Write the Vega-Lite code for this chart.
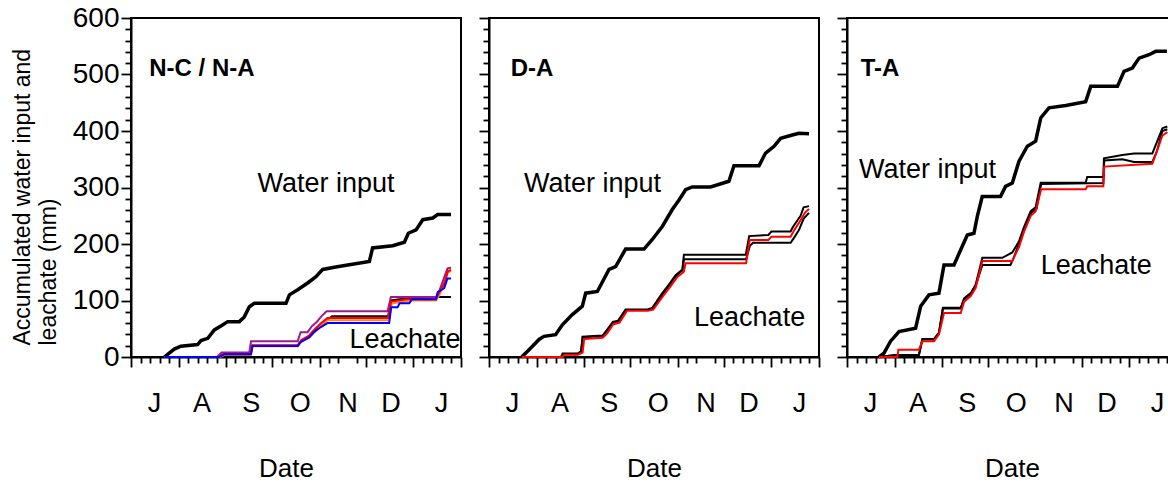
{
  "$schema": "https://vega.github.io/schema/vega-lite/v6.json",
  "padding": {"left": 10, "top": 3, "right": 0, "bottom": 0},
  "background": "white",
  "datasets": {
    "lines": [
      {"panel":"N-C / N-A","series":"Water input","day":21.7,"value":0},
      {"panel":"N-C / N-A","series":"Water input","day":24.9,"value":7},
      {"panel":"N-C / N-A","series":"Water input","day":28.2,"value":14},
      {"panel":"N-C / N-A","series":"Water input","day":32.5,"value":19},
      {"panel":"N-C / N-A","series":"Water input","day":43.4,"value":22},
      {"panel":"N-C / N-A","series":"Water input","day":45.6,"value":29},
      {"panel":"N-C / N-A","series":"Water input","day":50,"value":33},
      {"panel":"N-C / N-A","series":"Water input","day":54.3,"value":48},
      {"panel":"N-C / N-A","series":"Water input","day":58.6,"value":55},
      {"panel":"N-C / N-A","series":"Water input","day":63,"value":62.6},
      {"panel":"N-C / N-A","series":"Water input","day":70.6,"value":62.6},
      {"panel":"N-C / N-A","series":"Water input","day":73.8,"value":71},
      {"panel":"N-C / N-A","series":"Water input","day":77.1,"value":89},
      {"panel":"N-C / N-A","series":"Water input","day":80.4,"value":95},
      {"panel":"N-C / N-A","series":"Water input","day":101,"value":95},
      {"panel":"N-C / N-A","series":"Water input","day":103.2,"value":110},
      {"panel":"N-C / N-A","series":"Water input","day":108.6,"value":119},
      {"panel":"N-C / N-A","series":"Water input","day":115.1,"value":131},
      {"panel":"N-C / N-A","series":"Water input","day":120.5,"value":142},
      {"panel":"N-C / N-A","series":"Water input","day":124.9,"value":155},
      {"panel":"N-C / N-A","series":"Water input","day":132.5,"value":159},
      {"panel":"N-C / N-A","series":"Water input","day":141.2,"value":163},
      {"panel":"N-C / N-A","series":"Water input","day":155.3,"value":169},
      {"panel":"N-C / N-A","series":"Water input","day":157.4,"value":193},
      {"panel":"N-C / N-A","series":"Water input","day":170.5,"value":197},
      {"panel":"N-C / N-A","series":"Water input","day":178.1,"value":203},
      {"panel":"N-C / N-A","series":"Water input","day":180.7,"value":219},
      {"panel":"N-C / N-A","series":"Water input","day":185.7,"value":225},
      {"panel":"N-C / N-A","series":"Water input","day":190.1,"value":243},
      {"panel":"N-C / N-A","series":"Water input","day":196.6,"value":246},
      {"panel":"N-C / N-A","series":"Water input","day":199.8,"value":252},
      {"panel":"N-C / N-A","series":"Water input","day":208.5,"value":252},

      {"panel":"N-C / N-A","series":"Leachate (black)","day":21.7,"value":0},
      {"panel":"N-C / N-A","series":"Leachate (black)","day":57,"value":0},
      {"panel":"N-C / N-A","series":"Leachate (black)","day":60,"value":5},
      {"panel":"N-C / N-A","series":"Leachate (black)","day":78,"value":5},
      {"panel":"N-C / N-A","series":"Leachate (black)","day":79,"value":20},
      {"panel":"N-C / N-A","series":"Leachate (black)","day":108.6,"value":20},
      {"panel":"N-C / N-A","series":"Leachate (black)","day":111,"value":28},
      {"panel":"N-C / N-A","series":"Leachate (black)","day":116,"value":36},
      {"panel":"N-C / N-A","series":"Leachate (black)","day":120,"value":47},
      {"panel":"N-C / N-A","series":"Leachate (black)","day":124,"value":57},
      {"panel":"N-C / N-A","series":"Leachate (black)","day":128,"value":66},
      {"panel":"N-C / N-A","series":"Leachate (black)","day":131,"value":72},
      {"panel":"N-C / N-A","series":"Leachate (black)","day":167.5,"value":72},
      {"panel":"N-C / N-A","series":"Leachate (black)","day":169.5,"value":100},
      {"panel":"N-C / N-A","series":"Leachate (black)","day":175,"value":102},
      {"panel":"N-C / N-A","series":"Leachate (black)","day":199.5,"value":106},
      {"panel":"N-C / N-A","series":"Leachate (black)","day":208.5,"value":106},

      {"panel":"N-C / N-A","series":"Leachate (purple)","day":21.7,"value":0},
      {"panel":"N-C / N-A","series":"Leachate (purple)","day":56,"value":0},
      {"panel":"N-C / N-A","series":"Leachate (purple)","day":59,"value":8},
      {"panel":"N-C / N-A","series":"Leachate (purple)","day":77.1,"value":8},
      {"panel":"N-C / N-A","series":"Leachate (purple)","day":78.2,"value":28},
      {"panel":"N-C / N-A","series":"Leachate (purple)","day":108.6,"value":28},
      {"panel":"N-C / N-A","series":"Leachate (purple)","day":110.5,"value":44},
      {"panel":"N-C / N-A","series":"Leachate (purple)","day":115,"value":44},
      {"panel":"N-C / N-A","series":"Leachate (purple)","day":118,"value":55},
      {"panel":"N-C / N-A","series":"Leachate (purple)","day":121,"value":62},
      {"panel":"N-C / N-A","series":"Leachate (purple)","day":124,"value":72},
      {"panel":"N-C / N-A","series":"Leachate (purple)","day":127.4,"value":81},
      {"panel":"N-C / N-A","series":"Leachate (purple)","day":167.2,"value":81},
      {"panel":"N-C / N-A","series":"Leachate (purple)","day":169.3,"value":106},
      {"panel":"N-C / N-A","series":"Leachate (purple)","day":198.7,"value":106},
      {"panel":"N-C / N-A","series":"Leachate (purple)","day":201,"value":118},
      {"panel":"N-C / N-A","series":"Leachate (purple)","day":203,"value":133},
      {"panel":"N-C / N-A","series":"Leachate (purple)","day":206.2,"value":157},
      {"panel":"N-C / N-A","series":"Leachate (purple)","day":208.5,"value":158},

      {"panel":"N-C / N-A","series":"Leachate (orange)","day":21.7,"value":0},
      {"panel":"N-C / N-A","series":"Leachate (orange)","day":58,"value":0},
      {"panel":"N-C / N-A","series":"Leachate (orange)","day":61,"value":4},
      {"panel":"N-C / N-A","series":"Leachate (orange)","day":78,"value":4},
      {"panel":"N-C / N-A","series":"Leachate (orange)","day":79,"value":19},
      {"panel":"N-C / N-A","series":"Leachate (orange)","day":108.6,"value":19},
      {"panel":"N-C / N-A","series":"Leachate (orange)","day":111,"value":27},
      {"panel":"N-C / N-A","series":"Leachate (orange)","day":116,"value":34},
      {"panel":"N-C / N-A","series":"Leachate (orange)","day":120,"value":45},
      {"panel":"N-C / N-A","series":"Leachate (orange)","day":124,"value":56},
      {"panel":"N-C / N-A","series":"Leachate (orange)","day":128,"value":65},
      {"panel":"N-C / N-A","series":"Leachate (orange)","day":168,"value":65},
      {"panel":"N-C / N-A","series":"Leachate (orange)","day":170,"value":95},
      {"panel":"N-C / N-A","series":"Leachate (orange)","day":176,"value":97},
      {"panel":"N-C / N-A","series":"Leachate (orange)","day":182,"value":100},
      {"panel":"N-C / N-A","series":"Leachate (orange)","day":198.7,"value":100},
      {"panel":"N-C / N-A","series":"Leachate (orange)","day":201,"value":110},
      {"panel":"N-C / N-A","series":"Leachate (orange)","day":204,"value":128},
      {"panel":"N-C / N-A","series":"Leachate (orange)","day":206.5,"value":150},
      {"panel":"N-C / N-A","series":"Leachate (orange)","day":208.5,"value":152},

      {"panel":"N-C / N-A","series":"Leachate (red)","day":21.7,"value":0},
      {"panel":"N-C / N-A","series":"Leachate (red)","day":57,"value":0},
      {"panel":"N-C / N-A","series":"Leachate (red)","day":60,"value":5},
      {"panel":"N-C / N-A","series":"Leachate (red)","day":78,"value":5},
      {"panel":"N-C / N-A","series":"Leachate (red)","day":79,"value":21},
      {"panel":"N-C / N-A","series":"Leachate (red)","day":108.6,"value":21},
      {"panel":"N-C / N-A","series":"Leachate (red)","day":111,"value":30},
      {"panel":"N-C / N-A","series":"Leachate (red)","day":116,"value":38},
      {"panel":"N-C / N-A","series":"Leachate (red)","day":120,"value":50},
      {"panel":"N-C / N-A","series":"Leachate (red)","day":124,"value":60},
      {"panel":"N-C / N-A","series":"Leachate (red)","day":128,"value":69},
      {"panel":"N-C / N-A","series":"Leachate (red)","day":167.5,"value":69},
      {"panel":"N-C / N-A","series":"Leachate (red)","day":169.5,"value":98},
      {"panel":"N-C / N-A","series":"Leachate (red)","day":175,"value":100},
      {"panel":"N-C / N-A","series":"Leachate (red)","day":180,"value":102},
      {"panel":"N-C / N-A","series":"Leachate (red)","day":198.7,"value":102},
      {"panel":"N-C / N-A","series":"Leachate (red)","day":201,"value":115},
      {"panel":"N-C / N-A","series":"Leachate (red)","day":204,"value":130},
      {"panel":"N-C / N-A","series":"Leachate (red)","day":206.5,"value":152},
      {"panel":"N-C / N-A","series":"Leachate (red)","day":208.5,"value":154},

      {"panel":"N-C / N-A","series":"Leachate (blue)","day":21.7,"value":0},
      {"panel":"N-C / N-A","series":"Leachate (blue)","day":57.5,"value":0},
      {"panel":"N-C / N-A","series":"Leachate (blue)","day":60.8,"value":5},
      {"panel":"N-C / N-A","series":"Leachate (blue)","day":78.2,"value":5},
      {"panel":"N-C / N-A","series":"Leachate (blue)","day":79.2,"value":19.5},
      {"panel":"N-C / N-A","series":"Leachate (blue)","day":108.6,"value":19.5},
      {"panel":"N-C / N-A","series":"Leachate (blue)","day":110.7,"value":27},
      {"panel":"N-C / N-A","series":"Leachate (blue)","day":116.1,"value":34.5},
      {"panel":"N-C / N-A","series":"Leachate (blue)","day":119.4,"value":44.5},
      {"panel":"N-C / N-A","series":"Leachate (blue)","day":123.7,"value":53},
      {"panel":"N-C / N-A","series":"Leachate (blue)","day":128,"value":60},
      {"panel":"N-C / N-A","series":"Leachate (blue)","day":168.2,"value":60},
      {"panel":"N-C / N-A","series":"Leachate (blue)","day":169.5,"value":88},
      {"panel":"N-C / N-A","series":"Leachate (blue)","day":173.7,"value":88},
      {"panel":"N-C / N-A","series":"Leachate (blue)","day":175,"value":95},
      {"panel":"N-C / N-A","series":"Leachate (blue)","day":181.3,"value":95},
      {"panel":"N-C / N-A","series":"Leachate (blue)","day":183,"value":102},
      {"panel":"N-C / N-A","series":"Leachate (blue)","day":198.7,"value":102},
      {"panel":"N-C / N-A","series":"Leachate (blue)","day":199.8,"value":115},
      {"panel":"N-C / N-A","series":"Leachate (blue)","day":204.1,"value":122},
      {"panel":"N-C / N-A","series":"Leachate (blue)","day":206.2,"value":139},
      {"panel":"N-C / N-A","series":"Leachate (blue)","day":208.5,"value":139},

      {"panel":"D-A","series":"Water input","day":21.3,"value":0},
      {"panel":"D-A","series":"Water input","day":26.1,"value":13},
      {"panel":"D-A","series":"Water input","day":32.6,"value":31},
      {"panel":"D-A","series":"Water input","day":35.8,"value":36.5},
      {"panel":"D-A","series":"Water input","day":43.4,"value":39.5},
      {"panel":"D-A","series":"Water input","day":47.8,"value":57},
      {"panel":"D-A","series":"Water input","day":54.3,"value":75},
      {"panel":"D-A","series":"Water input","day":60.8,"value":90},
      {"panel":"D-A","series":"Water input","day":63,"value":113},
      {"panel":"D-A","series":"Water input","day":70.6,"value":116},
      {"panel":"D-A","series":"Water input","day":78.2,"value":155},
      {"panel":"D-A","series":"Water input","day":82.5,"value":160},
      {"panel":"D-A","series":"Water input","day":89,"value":191},
      {"panel":"D-A","series":"Water input","day":101,"value":191},
      {"panel":"D-A","series":"Water input","day":106.4,"value":208},
      {"panel":"D-A","series":"Water input","day":112.9,"value":231},
      {"panel":"D-A","series":"Water input","day":119.4,"value":261},
      {"panel":"D-A","series":"Water input","day":123.8,"value":278},
      {"panel":"D-A","series":"Water input","day":128.1,"value":296},
      {"panel":"D-A","series":"Water input","day":132.4,"value":301},
      {"panel":"D-A","series":"Water input","day":144.4,"value":301},
      {"panel":"D-A","series":"Water input","day":156.3,"value":311},
      {"panel":"D-A","series":"Water input","day":159.6,"value":338.5},
      {"panel":"D-A","series":"Water input","day":175.9,"value":338.5},
      {"panel":"D-A","series":"Water input","day":180.2,"value":361},
      {"panel":"D-A","series":"Water input","day":185.7,"value":373},
      {"panel":"D-A","series":"Water input","day":190,"value":387},
      {"panel":"D-A","series":"Water input","day":197.6,"value":393},
      {"panel":"D-A","series":"Water input","day":201.9,"value":396},
      {"panel":"D-A","series":"Water input","day":208.5,"value":395},

      {"panel":"D-A","series":"Leachate (black)","day":21.3,"value":0},
      {"panel":"D-A","series":"Leachate (black)","day":47,"value":0},
      {"panel":"D-A","series":"Leachate (black)","day":48,"value":6},
      {"panel":"D-A","series":"Leachate (black)","day":57.7,"value":6},
      {"panel":"D-A","series":"Leachate (black)","day":60,"value":10},
      {"panel":"D-A","series":"Leachate (black)","day":61,"value":36},
      {"panel":"D-A","series":"Leachate (black)","day":74,"value":38},
      {"panel":"D-A","series":"Leachate (black)","day":76,"value":45},
      {"panel":"D-A","series":"Leachate (black)","day":80.7,"value":62},
      {"panel":"D-A","series":"Leachate (black)","day":84,"value":64},
      {"panel":"D-A","series":"Leachate (black)","day":89,"value":84},
      {"panel":"D-A","series":"Leachate (black)","day":103.2,"value":84},
      {"panel":"D-A","series":"Leachate (black)","day":106.4,"value":87},
      {"panel":"D-A","series":"Leachate (black)","day":112.9,"value":113},
      {"panel":"D-A","series":"Leachate (black)","day":117.2,"value":128},
      {"panel":"D-A","series":"Leachate (black)","day":121.6,"value":145},
      {"panel":"D-A","series":"Leachate (black)","day":126,"value":155},
      {"panel":"D-A","series":"Leachate (black)","day":127,"value":181},
      {"panel":"D-A","series":"Leachate (black)","day":167.3,"value":181},
      {"panel":"D-A","series":"Leachate (black)","day":169.5,"value":214},
      {"panel":"D-A","series":"Leachate (black)","day":182,"value":216},
      {"panel":"D-A","series":"Leachate (black)","day":184,"value":222},
      {"panel":"D-A","series":"Leachate (black)","day":196.5,"value":222},
      {"panel":"D-A","series":"Leachate (black)","day":198,"value":230},
      {"panel":"D-A","series":"Leachate (black)","day":203,"value":250},
      {"panel":"D-A","series":"Leachate (black)","day":205,"value":265},
      {"panel":"D-A","series":"Leachate (black)","day":208.5,"value":267},

      {"panel":"D-A","series":"Leachate (black 2)","day":21.3,"value":0},
      {"panel":"D-A","series":"Leachate (black 2)","day":47,"value":0},
      {"panel":"D-A","series":"Leachate (black 2)","day":48,"value":5},
      {"panel":"D-A","series":"Leachate (black 2)","day":57.7,"value":5},
      {"panel":"D-A","series":"Leachate (black 2)","day":60,"value":9},
      {"panel":"D-A","series":"Leachate (black 2)","day":61,"value":35},
      {"panel":"D-A","series":"Leachate (black 2)","day":74,"value":37},
      {"panel":"D-A","series":"Leachate (black 2)","day":76,"value":43},
      {"panel":"D-A","series":"Leachate (black 2)","day":80.7,"value":60},
      {"panel":"D-A","series":"Leachate (black 2)","day":84,"value":62},
      {"panel":"D-A","series":"Leachate (black 2)","day":89,"value":83},
      {"panel":"D-A","series":"Leachate (black 2)","day":103.2,"value":83},
      {"panel":"D-A","series":"Leachate (black 2)","day":106.4,"value":86},
      {"panel":"D-A","series":"Leachate (black 2)","day":112.9,"value":110},
      {"panel":"D-A","series":"Leachate (black 2)","day":117.2,"value":126},
      {"panel":"D-A","series":"Leachate (black 2)","day":121.6,"value":143},
      {"panel":"D-A","series":"Leachate (black 2)","day":126,"value":153},
      {"panel":"D-A","series":"Leachate (black 2)","day":127,"value":173},
      {"panel":"D-A","series":"Leachate (black 2)","day":167.5,"value":173},
      {"panel":"D-A","series":"Leachate (black 2)","day":170,"value":197},
      {"panel":"D-A","series":"Leachate (black 2)","day":172,"value":202},
      {"panel":"D-A","series":"Leachate (black 2)","day":196.5,"value":202},
      {"panel":"D-A","series":"Leachate (black 2)","day":198.5,"value":210},
      {"panel":"D-A","series":"Leachate (black 2)","day":202,"value":225},
      {"panel":"D-A","series":"Leachate (black 2)","day":205,"value":245},
      {"panel":"D-A","series":"Leachate (black 2)","day":208.5,"value":255},

      {"panel":"D-A","series":"Leachate (red)","day":21.3,"value":0},
      {"panel":"D-A","series":"Leachate (red)","day":48,"value":0},
      {"panel":"D-A","series":"Leachate (red)","day":49,"value":4},
      {"panel":"D-A","series":"Leachate (red)","day":58,"value":4},
      {"panel":"D-A","series":"Leachate (red)","day":61,"value":8},
      {"panel":"D-A","series":"Leachate (red)","day":62,"value":32},
      {"panel":"D-A","series":"Leachate (red)","day":74,"value":34},
      {"panel":"D-A","series":"Leachate (red)","day":77,"value":42},
      {"panel":"D-A","series":"Leachate (red)","day":81,"value":58},
      {"panel":"D-A","series":"Leachate (red)","day":85,"value":61},
      {"panel":"D-A","series":"Leachate (red)","day":90,"value":82},
      {"panel":"D-A","series":"Leachate (red)","day":103.5,"value":82},
      {"panel":"D-A","series":"Leachate (red)","day":107,"value":84},
      {"panel":"D-A","series":"Leachate (red)","day":113.5,"value":108},
      {"panel":"D-A","series":"Leachate (red)","day":118,"value":124},
      {"panel":"D-A","series":"Leachate (red)","day":122.5,"value":141},
      {"panel":"D-A","series":"Leachate (red)","day":127,"value":151},
      {"panel":"D-A","series":"Leachate (red)","day":128,"value":166},
      {"panel":"D-A","series":"Leachate (red)","day":167.5,"value":166},
      {"panel":"D-A","series":"Leachate (red)","day":169.8,"value":207},
      {"panel":"D-A","series":"Leachate (red)","day":182,"value":207},
      {"panel":"D-A","series":"Leachate (red)","day":184,"value":213},
      {"panel":"D-A","series":"Leachate (red)","day":196.5,"value":213},
      {"panel":"D-A","series":"Leachate (red)","day":199,"value":225},
      {"panel":"D-A","series":"Leachate (red)","day":203,"value":242},
      {"panel":"D-A","series":"Leachate (red)","day":206,"value":256},
      {"panel":"D-A","series":"Leachate (red)","day":208.5,"value":262},

      {"panel":"T-A","series":"Water input","day":20.8,"value":0},
      {"panel":"T-A","series":"Water input","day":24.1,"value":7},
      {"panel":"T-A","series":"Water input","day":28.4,"value":28},
      {"panel":"T-A","series":"Water input","day":33.9,"value":45},
      {"panel":"T-A","series":"Water input","day":44.7,"value":51},
      {"panel":"T-A","series":"Water input","day":48,"value":90},
      {"panel":"T-A","series":"Water input","day":53.4,"value":110},
      {"panel":"T-A","series":"Water input","day":59.9,"value":113},
      {"panel":"T-A","series":"Water input","day":63.2,"value":163},
      {"panel":"T-A","series":"Water input","day":69.7,"value":163},
      {"panel":"T-A","series":"Water input","day":75.1,"value":196},
      {"panel":"T-A","series":"Water input","day":78.4,"value":216},
      {"panel":"T-A","series":"Water input","day":82.7,"value":219},
      {"panel":"T-A","series":"Water input","day":84.9,"value":249},
      {"panel":"T-A","series":"Water input","day":88.1,"value":284},
      {"panel":"T-A","series":"Water input","day":100,"value":284},
      {"panel":"T-A","series":"Water input","day":103.3,"value":302},
      {"panel":"T-A","series":"Water input","day":107.7,"value":308},
      {"panel":"T-A","series":"Water input","day":112,"value":346},
      {"panel":"T-A","series":"Water input","day":117.5,"value":373},
      {"panel":"T-A","series":"Water input","day":122.9,"value":382},
      {"panel":"T-A","series":"Water input","day":126.2,"value":423},
      {"panel":"T-A","series":"Water input","day":131.6,"value":441},
      {"panel":"T-A","series":"Water input","day":142.5,"value":445},
      {"panel":"T-A","series":"Water input","day":155.5,"value":452},
      {"panel":"T-A","series":"Water input","day":158.8,"value":479},
      {"panel":"T-A","series":"Water input","day":176.2,"value":479},
      {"panel":"T-A","series":"Water input","day":180.5,"value":505.5},
      {"panel":"T-A","series":"Water input","day":185.9,"value":511.5},
      {"panel":"T-A","series":"Water input","day":190.3,"value":529},
      {"panel":"T-A","series":"Water input","day":196.8,"value":535},
      {"panel":"T-A","series":"Water input","day":201.1,"value":541},
      {"panel":"T-A","series":"Water input","day":208.5,"value":541},

      {"panel":"T-A","series":"Leachate (black)","day":20.8,"value":0},
      {"panel":"T-A","series":"Leachate (black)","day":30.6,"value":3},
      {"panel":"T-A","series":"Leachate (black)","day":46.9,"value":4},
      {"panel":"T-A","series":"Leachate (black)","day":49.1,"value":32},
      {"panel":"T-A","series":"Leachate (black)","day":56.7,"value":32},
      {"panel":"T-A","series":"Leachate (black)","day":59.9,"value":43},
      {"panel":"T-A","series":"Leachate (black)","day":62.5,"value":87},
      {"panel":"T-A","series":"Leachate (black)","day":74.1,"value":87},
      {"panel":"T-A","series":"Leachate (black)","day":76.3,"value":104},
      {"panel":"T-A","series":"Leachate (black)","day":80.6,"value":113},
      {"panel":"T-A","series":"Leachate (black)","day":83.8,"value":128},
      {"panel":"T-A","series":"Leachate (black)","day":88.2,"value":175.5},
      {"panel":"T-A","series":"Leachate (black)","day":101.2,"value":175.5},
      {"panel":"T-A","series":"Leachate (black)","day":107.7,"value":185},
      {"panel":"T-A","series":"Leachate (black)","day":112.1,"value":205},
      {"panel":"T-A","series":"Leachate (black)","day":115.3,"value":230},
      {"panel":"T-A","series":"Leachate (black)","day":119.7,"value":258},
      {"panel":"T-A","series":"Leachate (black)","day":122.9,"value":265},
      {"panel":"T-A","series":"Leachate (black)","day":126.2,"value":308.6},
      {"panel":"T-A","series":"Leachate (black)","day":155.5,"value":308.6},
      {"panel":"T-A","series":"Leachate (black)","day":156.5,"value":318.5},
      {"panel":"T-A","series":"Leachate (black)","day":167,"value":318.5},
      {"panel":"T-A","series":"Leachate (black)","day":167.4,"value":351.6},
      {"panel":"T-A","series":"Leachate (black)","day":179.4,"value":357.4},
      {"panel":"T-A","series":"Leachate (black)","day":187,"value":360},
      {"panel":"T-A","series":"Leachate (black)","day":198.9,"value":360},
      {"panel":"T-A","series":"Leachate (black)","day":201.1,"value":375},
      {"panel":"T-A","series":"Leachate (black)","day":205.5,"value":405},
      {"panel":"T-A","series":"Leachate (black)","day":208.7,"value":408},

      {"panel":"T-A","series":"Leachate (black 2)","day":20.8,"value":0},
      {"panel":"T-A","series":"Leachate (black 2)","day":30.6,"value":3},
      {"panel":"T-A","series":"Leachate (black 2)","day":46.9,"value":4},
      {"panel":"T-A","series":"Leachate (black 2)","day":49.1,"value":31},
      {"panel":"T-A","series":"Leachate (black 2)","day":56.7,"value":31},
      {"panel":"T-A","series":"Leachate (black 2)","day":59.9,"value":42},
      {"panel":"T-A","series":"Leachate (black 2)","day":62.5,"value":86},
      {"panel":"T-A","series":"Leachate (black 2)","day":74.1,"value":86},
      {"panel":"T-A","series":"Leachate (black 2)","day":76.3,"value":102},
      {"panel":"T-A","series":"Leachate (black 2)","day":80.6,"value":112},
      {"panel":"T-A","series":"Leachate (black 2)","day":83.8,"value":126},
      {"panel":"T-A","series":"Leachate (black 2)","day":88.2,"value":163},
      {"panel":"T-A","series":"Leachate (black 2)","day":106.5,"value":163},
      {"panel":"T-A","series":"Leachate (black 2)","day":108.5,"value":175},
      {"panel":"T-A","series":"Leachate (black 2)","day":112.5,"value":203},
      {"panel":"T-A","series":"Leachate (black 2)","day":116,"value":228},
      {"panel":"T-A","series":"Leachate (black 2)","day":120.2,"value":256},
      {"panel":"T-A","series":"Leachate (black 2)","day":123.5,"value":262},
      {"panel":"T-A","series":"Leachate (black 2)","day":126.5,"value":306},
      {"panel":"T-A","series":"Leachate (black 2)","day":167,"value":308},
      {"panel":"T-A","series":"Leachate (black 2)","day":167.6,"value":348},
      {"panel":"T-A","series":"Leachate (black 2)","day":179.4,"value":350},
      {"panel":"T-A","series":"Leachate (black 2)","day":187,"value":345},
      {"panel":"T-A","series":"Leachate (black 2)","day":198.9,"value":345},
      {"panel":"T-A","series":"Leachate (black 2)","day":202,"value":365},
      {"panel":"T-A","series":"Leachate (black 2)","day":205.5,"value":400},
      {"panel":"T-A","series":"Leachate (black 2)","day":208.7,"value":403},

      {"panel":"T-A","series":"Leachate (red)","day":20.8,"value":0},
      {"panel":"T-A","series":"Leachate (red)","day":32.8,"value":0},
      {"panel":"T-A","series":"Leachate (red)","day":33.5,"value":13},
      {"panel":"T-A","series":"Leachate (red)","day":46.9,"value":13},
      {"panel":"T-A","series":"Leachate (red)","day":49.1,"value":28},
      {"panel":"T-A","series":"Leachate (red)","day":56.7,"value":28},
      {"panel":"T-A","series":"Leachate (red)","day":59.9,"value":40},
      {"panel":"T-A","series":"Leachate (red)","day":63.2,"value":78},
      {"panel":"T-A","series":"Leachate (red)","day":74.1,"value":78},
      {"panel":"T-A","series":"Leachate (red)","day":76.3,"value":98},
      {"panel":"T-A","series":"Leachate (red)","day":80.6,"value":108},
      {"panel":"T-A","series":"Leachate (red)","day":83.8,"value":122},
      {"panel":"T-A","series":"Leachate (red)","day":88.2,"value":170},
      {"panel":"T-A","series":"Leachate (red)","day":107.7,"value":170},
      {"panel":"T-A","series":"Leachate (red)","day":112.1,"value":195},
      {"panel":"T-A","series":"Leachate (red)","day":115.3,"value":222},
      {"panel":"T-A","series":"Leachate (red)","day":119.7,"value":250},
      {"panel":"T-A","series":"Leachate (red)","day":122.9,"value":258},
      {"panel":"T-A","series":"Leachate (red)","day":126.5,"value":296.7},
      {"panel":"T-A","series":"Leachate (red)","day":155.5,"value":296.7},
      {"panel":"T-A","series":"Leachate (red)","day":156.5,"value":302},
      {"panel":"T-A","series":"Leachate (red)","day":167,"value":302},
      {"panel":"T-A","series":"Leachate (red)","day":167.6,"value":337},
      {"panel":"T-A","series":"Leachate (red)","day":198.9,"value":342},
      {"panel":"T-A","series":"Leachate (red)","day":201.1,"value":358},
      {"panel":"T-A","series":"Leachate (red)","day":205.5,"value":392},
      {"panel":"T-A","series":"Leachate (red)","day":208.7,"value":398}
    ],
    "labels": [
      {"panel":"N-C / N-A","kind":"panel","text":"N-C / N-A","day":11.9,"value":497},
      {"panel":"N-C / N-A","kind":"note","text":"Water input","day":82.4,"value":292.6},
      {"panel":"N-C / N-A","kind":"note","text":"Leachate","day":142.3,"value":16.5},
      {"panel":"D-A","kind":"panel","text":"D-A","day":14.1,"value":497},
      {"panel":"D-A","kind":"note","text":"Water input","day":22.8,"value":292.6},
      {"panel":"D-A","kind":"note","text":"Leachate","day":133.6,"value":54.9},
      {"panel":"T-A","kind":"panel","text":"T-A","day":8.9,"value":497},
      {"panel":"T-A","kind":"note","text":"Water input","day":7.8,"value":316},
      {"panel":"T-A","kind":"note","text":"Leachate","day":126.2,"value":146.9}
    ]
  },
  "hconcat": [
    {
      "width": 330, "height": 339,
      "encoding": {
        "x": {"field": "day", "type": "quantitative", "scale": {"domain": [0, 215], "nice": false, "zero": false},
          "axis": {"title": "Date", "titleX": 155, "values": [0,6.2,12.4,15,18.6,24.8,31,37.2,43.4,46,49.6,55.8,62,68,74,78,80,86,92,98.2,104.4,110,110.6,116.8,123,129,135,141,147,153,159.2,165.4,169,171.6,177.8,184,190.2,196.4,202,202.6,208.8,215],
            "tickSize": {"condition": {"test": "indexof([0,31,62,92,123,153,184,215], datum.value) >= 0", "value": 10}, "value": 6},
            "tickOpacity": {"condition": {"test": "indexof([15,46,78,110,141,169,202], datum.value) >= 0", "value": 0}, "value": 1},
            "labelExpr": "indexof([15,46,78,110,141,169,202], datum.value) >= 0 ? ['J','A','S','O','N','D','J'][indexof([15,46,78,110,141,169,202], datum.value)] : ''",
            "labelOverlap": false, "labelFlush": false, "labelFontSize": 27, "labelPadding": 27,
            "titleFontSize": 26, "titleFontWeight": "normal", "titlePadding": 35}},
        "y": {"field": "value", "type": "quantitative", "scale": {"domain": [0, 600], "nice": false},
          "axis": {"title": ["Accumulated water input and", "leachate (mm)"], "values": [0,20,40,60,80,100,120,140,160,180,200,220,240,260,280,300,320,340,360,380,400,420,440,460,480,500,520,540,560,580,600],
            "tickSize": {"condition": {"test": "datum.value % 100 === 0", "value": 10}, "value": 6},
            "labelExpr": "datum.value % 100 === 0 ? datum.label : ''",
            "labelOverlap": false, "labelFlush": false, "labelFontSize": 28, "labelPadding": 2,
            "titleFontSize": 23, "titleFontWeight": "normal", "titleLineHeight": 26, "titleAlign": "left", "titleY": 327, "titlePadding": 12}}
      },
      "layer": [
        {"data": {"name": "lines"}, "transform": [{"filter": "datum.panel === 'N-C / N-A' && datum.series === 'Water input'"}],
          "mark": {"type": "line", "color": "black", "strokeWidth": 3.5}},
        {"data": {"name": "lines"}, "transform": [{"filter": "datum.panel === 'N-C / N-A' && datum.series !== 'Water input'"}],
          "mark": {"type": "line", "strokeWidth": 2},
          "encoding": {"color": {"field": "series", "type": "nominal", "legend": null,
            "scale": {"domain": ["Leachate (black)", "Leachate (black 2)", "Leachate (purple)", "Leachate (orange)", "Leachate (red)", "Leachate (blue)"], "range": ["black", "black", "#9b1b8c", "#ff8c1a", "#ff0000", "#0000ff"]}}}},
        {"data": {"name": "labels"}, "transform": [{"filter": "datum.panel === 'N-C / N-A' && datum.kind === 'note'"}],
          "mark": {"type": "text", "align": "left", "baseline": "alphabetic", "fontSize": 27, "color": "black"},
          "encoding": {"text": {"field": "text"}}},
        {"data": {"name": "labels"}, "transform": [{"filter": "datum.panel === 'N-C / N-A' && datum.kind === 'panel'"}],
          "mark": {"type": "text", "align": "left", "baseline": "alphabetic", "fontSize": 24, "fontWeight": "bold", "color": "black"},
          "encoding": {"text": {"field": "text"}}}
      ]
    },
    {
      "width": 330, "height": 339,
      "encoding": {
        "x": {"field": "day", "type": "quantitative", "scale": {"domain": [0, 215], "nice": false, "zero": false},
          "axis": {"title": "Date", "values": [0,6.2,12.4,15,18.6,24.8,31,37.2,43.4,46,49.6,55.8,62,68,74,78,80,86,92,98.2,104.4,110,110.6,116.8,123,129,135,141,147,153,159.2,165.4,169,171.6,177.8,184,190.2,196.4,202,202.6,208.8,215],
            "tickSize": {"condition": {"test": "indexof([0,31,62,92,123,153,184,215], datum.value) >= 0", "value": 10}, "value": 6},
            "tickOpacity": {"condition": {"test": "indexof([15,46,78,110,141,169,202], datum.value) >= 0", "value": 0}, "value": 1},
            "labelExpr": "indexof([15,46,78,110,141,169,202], datum.value) >= 0 ? ['J','A','S','O','N','D','J'][indexof([15,46,78,110,141,169,202], datum.value)] : ''",
            "labelOverlap": false, "labelFlush": false, "labelFontSize": 27, "labelPadding": 27,
            "titleFontSize": 26, "titleFontWeight": "normal", "titlePadding": 35}},
        "y": {"field": "value", "type": "quantitative", "scale": {"domain": [0, 600], "nice": false},
          "axis": {"title": null, "labels": false, "values": [0,20,40,60,80,100,120,140,160,180,200,220,240,260,280,300,320,340,360,380,400,420,440,460,480,500,520,540,560,580,600],
            "tickSize": {"condition": {"test": "datum.value % 100 === 0", "value": 10}, "value": 6}}}
      },
      "layer": [
        {"data": {"name": "lines"}, "transform": [{"filter": "datum.panel === 'D-A' && datum.series === 'Water input'"}],
          "mark": {"type": "line", "color": "black", "strokeWidth": 3.5}},
        {"data": {"name": "lines"}, "transform": [{"filter": "datum.panel === 'D-A' && datum.series !== 'Water input'"}],
          "mark": {"type": "line", "strokeWidth": 2},
          "encoding": {"color": {"field": "series", "type": "nominal", "legend": null}}},
        {"data": {"name": "labels"}, "transform": [{"filter": "datum.panel === 'D-A' && datum.kind === 'note'"}],
          "mark": {"type": "text", "align": "left", "baseline": "alphabetic", "fontSize": 27, "color": "black"},
          "encoding": {"text": {"field": "text"}}},
        {"data": {"name": "labels"}, "transform": [{"filter": "datum.panel === 'D-A' && datum.kind === 'panel'"}],
          "mark": {"type": "text", "align": "left", "baseline": "alphabetic", "fontSize": 24, "fontWeight": "bold", "color": "black"},
          "encoding": {"text": {"field": "text"}}}
      ]
    },
    {
      "width": 330, "height": 339,
      "encoding": {
        "x": {"field": "day", "type": "quantitative", "scale": {"domain": [0, 215], "nice": false, "zero": false},
          "axis": {"title": "Date", "values": [0,6.2,12.4,15,18.6,24.8,31,37.2,43.4,46,49.6,55.8,62,68,74,78,80,86,92,98.2,104.4,110,110.6,116.8,123,129,135,141,147,153,159.2,165.4,169,171.6,177.8,184,190.2,196.4,202,202.6,208.8,215],
            "tickSize": {"condition": {"test": "indexof([0,31,62,92,123,153,184,215], datum.value) >= 0", "value": 10}, "value": 6},
            "tickOpacity": {"condition": {"test": "indexof([15,46,78,110,141,169,202], datum.value) >= 0", "value": 0}, "value": 1},
            "labelExpr": "indexof([15,46,78,110,141,169,202], datum.value) >= 0 ? ['J','A','S','O','N','D','J'][indexof([15,46,78,110,141,169,202], datum.value)] : ''",
            "labelOverlap": false, "labelFlush": false, "labelFontSize": 27, "labelPadding": 27,
            "titleFontSize": 26, "titleFontWeight": "normal", "titlePadding": 35}},
        "y": {"field": "value", "type": "quantitative", "scale": {"domain": [0, 600], "nice": false},
          "axis": {"title": null, "labels": false, "values": [0,20,40,60,80,100,120,140,160,180,200,220,240,260,280,300,320,340,360,380,400,420,440,460,480,500,520,540,560,580,600],
            "tickSize": {"condition": {"test": "datum.value % 100 === 0", "value": 10}, "value": 6}}}
      },
      "layer": [
        {"data": {"name": "lines"}, "transform": [{"filter": "datum.panel === 'T-A' && datum.series === 'Water input'"}],
          "mark": {"type": "line", "color": "black", "strokeWidth": 3.5}},
        {"data": {"name": "lines"}, "transform": [{"filter": "datum.panel === 'T-A' && datum.series !== 'Water input'"}],
          "mark": {"type": "line", "strokeWidth": 2},
          "encoding": {"color": {"field": "series", "type": "nominal", "legend": null}}},
        {"data": {"name": "labels"}, "transform": [{"filter": "datum.panel === 'T-A' && datum.kind === 'note'"}],
          "mark": {"type": "text", "align": "left", "baseline": "alphabetic", "fontSize": 27, "color": "black"},
          "encoding": {"text": {"field": "text"}}},
        {"data": {"name": "labels"}, "transform": [{"filter": "datum.panel === 'T-A' && datum.kind === 'panel'"}],
          "mark": {"type": "text", "align": "left", "baseline": "alphabetic", "fontSize": 24, "fontWeight": "bold", "color": "black"},
          "encoding": {"text": {"field": "text"}}}
      ]
    }
  ],
  "spacing": 28,
  "bounds": "flush",
  "config": {
    "font": "Liberation Sans",
    "view": {"stroke": "black", "strokeWidth": 2},
    "axis": {"domainColor": "black", "domainWidth": 2, "tickColor": "black", "tickWidth": 1.8, "labelColor": "black", "titleColor": "black", "grid": false, "labelFont": "Liberation Sans", "titleFont": "Liberation Sans"},
    "text": {"font": "Liberation Sans"}
  }
}
